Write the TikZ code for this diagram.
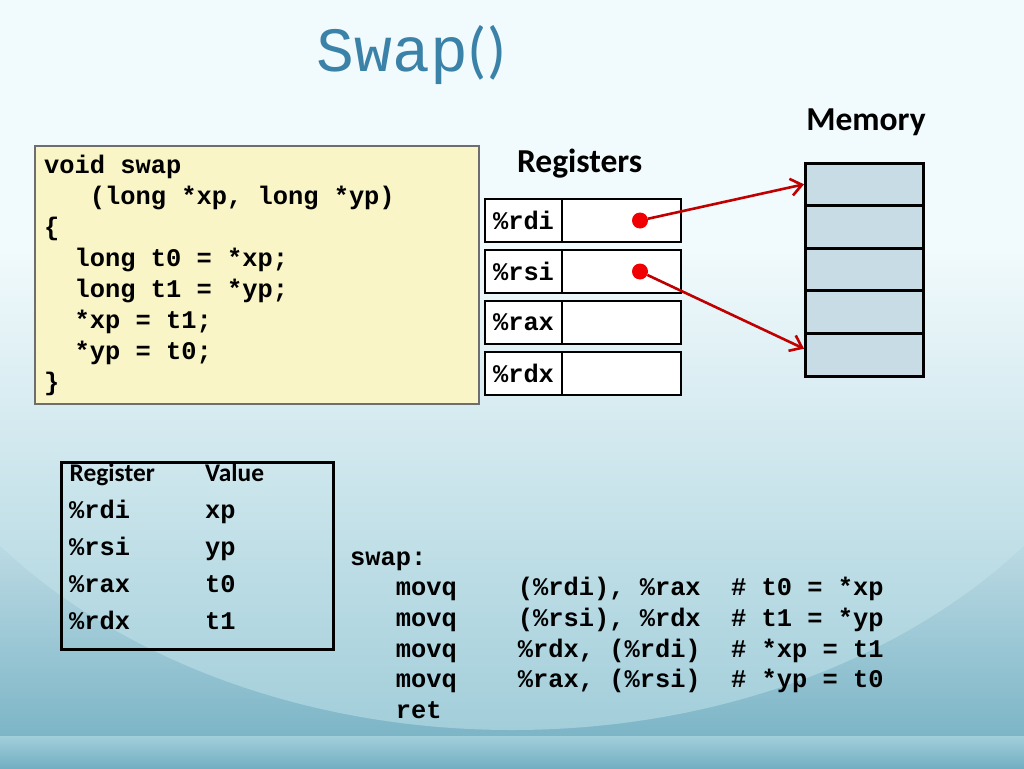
\documentclass[tikz,border=0pt]{standalone}
\usepackage{fontspec}
\setmainfont{Carlito}
\newfontfamily\codefont{Liberation Mono}
\usetikzlibrary{positioning,arrows.meta}

\definecolor{bgtop}{HTML}{F1FAFC}
\definecolor{bgdark}{HTML}{72AFC2}
\definecolor{bgarc}{HTML}{A2CEDA}
\definecolor{codefill}{HTML}{F9F5C6}
\definecolor{codeborder}{HTML}{6E6E6E}
\definecolor{memfill}{HTML}{C7DCE5}
\definecolor{ptrred}{HTML}{C00000}
\definecolor{dotred}{HTML}{F00000}
\definecolor{titleblue}{HTML}{3B82A8}

\newcommand{\codesize}{\codefont\bfseries\fontsize{25.4}{31}\selectfont}

\tikzset{
  codebox/.style={draw=codeborder, line width=1.5pt, fill=codefill, anchor=north west,
    minimum width=444pt, minimum height=258pt, inner sep=0pt},
  codetext/.style={anchor=north west, inner sep=0pt, align=left},
  regname/.style={draw, line width=2.5pt, fill=white, minimum width=77pt,
    minimum height=43pt, inner sep=0pt, outer sep=0pt, font=\codesize},
  regval/.style={regname, minimum width=119pt},
  memcell/.style={draw, line width=3pt, fill=memfill, minimum width=118pt,
    minimum height=42.6pt, inner sep=0pt, outer sep=0pt},
  dot/.style={circle, fill=dotred, minimum size=16pt, inner sep=0pt},
  ptr/.style={draw=ptrred, line width=2.6pt, -{Straight Barb[length=11pt, width=17pt, line width=2.6pt]}},
  heading/.style={anchor=base, inner sep=0pt, font=\bfseries\fontsize{33.5}{40}\selectfont},
  tabbox/.style={draw, line width=3pt, anchor=north west, minimum width=272pt,
    minimum height=187pt, inner sep=0pt},
  tabhead/.style={anchor=base west, inner sep=0pt, font=\bfseries\fontsize{25.4}{30}\selectfont},
  tabcell/.style={anchor=base west, inner sep=0pt, font=\codesize}
}

\begin{document}
\begin{tikzpicture}[x=1pt, y=-1pt]
  \useasboundingbox (0,0) rectangle (1024,768);

  % slide background, drawn with y pointing up
  \begin{scope}[y=1pt]
    \clip (0,0) rectangle (1024,-768);
    \fill[bgtop] (0,0) rectangle (1024,-768);
    \shade[top color=bgtop, bottom color=bgdark] (0,-380) rectangle (1024,-768);
    \shade[top color=bgtop, bottom color=bgarc, middle color=bgtop] (512,-250) ellipse (650 and 480);
    \shade[top color=bgarc, bottom color=bgdark] (0,-736) rectangle (1024,-768);
  \end{scope}

  \node[anchor=base west, inner sep=0pt, text=titleblue,
    font=\codefont\fontsize{63}{63}\selectfont] (title) at (316.5,71) {Swap{\rmfamily()}};

  % C source
  \node[codebox] (codebg) at (34,145) {};
  \node[codetext, font=\codesize] (csrc) at (44,151.3) {\strut void~swap\\
~~~(long~*xp,~long~*yp)\\
\{\\
~~long~t0~=~*xp;\\
~~long~t1~=~*yp;\\
~~*xp~=~t1;\\
~~*yp~=~t0;\\
\}};

  % registers
  \node[heading] (reglabel) at (579.7,172) {Registers};
  \foreach \name/\idx in {rdi/0, rsi/1, rax/2, rdx/3}{
    \node[regname] (\name) at (523.5,220.5+51*\idx) {\%\name};
    \node[regval, right=0pt of \name] (\name val) {};
  }
  \node[dot] (rdidot) at ([xshift=18.5pt]rdival.center) {};
  \node[dot] (rsidot) at ([xshift=18.5pt]rsival.center) {};

  % memory
  \node[heading] (memlabel) at (866,130) {Memory};
  \node[memcell] (mem0) at (864,184.3) {};
  \foreach \i [remember=\i as \prev (initially 0)] in {1,...,4}{
    \node[memcell, below=0pt of mem\prev] (mem\i) {};
  }

  \draw[ptr] (rdidot) -- ([xshift=-1pt]mem0.west);
  \draw[ptr] (rsidot) -- ([xshift=-1pt, yshift=6pt]mem4.west);

  % register table
  \node[tabbox] (regtab) at (60,461) {};
  \node[tabhead] (hreg) at (69.5,481) {Register};
  \node[tabhead] (hval) at (205,481) {Value};
  \foreach \name/\val [count=\i] in {rdi/xp, rsi/yp, rax/t0, rdx/t1}{
    \node[tabcell] (t\name) at (69,481+37*\i) {\%\name};
    \node[tabcell] (t\name v) at (205,481+37*\i) {\val};
  }

  % assembly
  \node[codetext, font=\codefont\bfseries\fontsize{25.4}{30.6}\selectfont] (asm) at (350,543.6) {\strut swap:\\
~~~movq~~~~(\%rdi),~\%rax~~\#~t0~=~*xp\\
~~~movq~~~~(\%rsi),~\%rdx~~\#~t1~=~*yp\\
~~~movq~~~~\%rdx,~(\%rdi)~~\#~*xp~=~t1\\
~~~movq~~~~\%rax,~(\%rsi)~~\#~*yp~=~t0\\
~~~ret};
\end{tikzpicture}
\end{document}
